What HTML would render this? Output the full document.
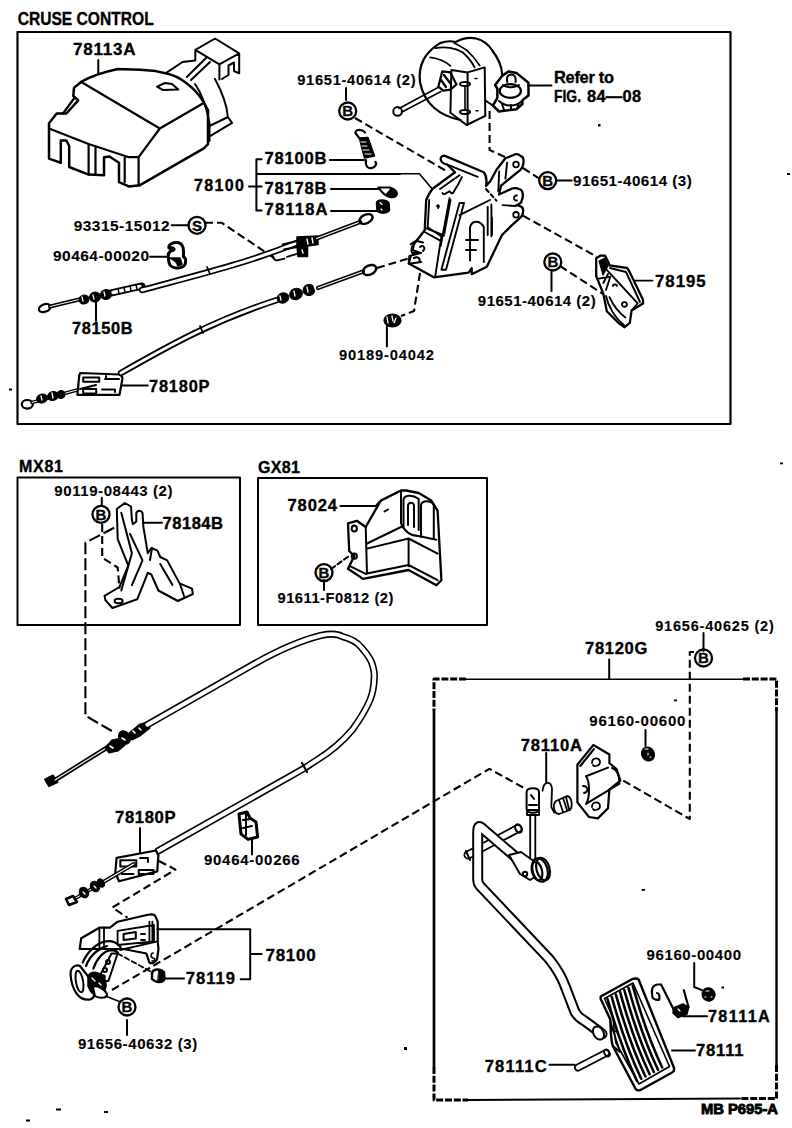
<!DOCTYPE html>
<html><head><meta charset="utf-8">
<style>
html,body{margin:0;padding:0;background:#fff;}
svg{display:block;}
text{font-family:"Liberation Sans",sans-serif;font-weight:bold;fill:#000;stroke:#000;stroke-width:0.35px;}
</style></head>
<body>
<svg width="792" height="1128" viewBox="0 0 792 1128">
<rect x="0" y="0" width="792" height="1128" fill="#fff"/>
<g fill="none" stroke="#000" stroke-width="2" stroke-linejoin="round" stroke-linecap="round">
<!-- boxes -->
<path d="M17.5,424 V32 H730.5 V424 Z" stroke-width="2.2"/>
<path d="M17.5,625 V477.5 H240 V625 Z"/>
<path d="M258,625 V478 H487 V625 Z"/>
<path d="M466,679.3 H743" stroke-width="1.5"/><path d="M434,711 V1067" stroke-width="2.7"/><path d="M776.5,711 V1065" stroke-width="2.4"/><path d="M468,1100 L740,1098.5" stroke-width="2"/>
<g stroke-dasharray="7,1.8" stroke-width="3" stroke-linecap="butt"><path d="M466,679 H434 V711"/><path d="M743,679 H776.5 V711"/><path d="M434,1067 V1100 H468"/><path d="M776.5,1065 V1098.5 H740"/></g>
</g>

<g id="top-parts" fill="none" stroke="#000" stroke-width="2" stroke-linejoin="round" stroke-linecap="round">
<!-- cover 78113A -->
<path d="M98.3,60 V73.2"/>
<path d="M81.7,81.5 Q95,74 117.8,69 L140,69.7 L155.6,71.1 L165.5,73.3 C180,76 195,88 202.4,100.2 L208,110.1 L208,144.1 L203.8,148.4 L140,185.2 L128.9,186.4 L119,182.2 L119,162.8 L109.4,156.5 L104,157.2 L104,175.3 L88.6,174.6 L69.2,167 L69.2,146 L66.4,140.6 L60.8,140.6 L60.8,162.8 L49,158.6 L49,123.2 L56.7,113.5 L66.4,113.5 L78.2,100.3 L73.3,96 L74,87.8 Z" stroke-width="2.5"/>
<path d="M49.7,128.8 L88.6,144 L128.9,157.2 L138.6,157.2 L159.8,128.5 M81.7,82.2 L159.8,128.5 L202.4,103.7 M124.7,158 V182 M138.6,157.2 V185.7 M88.6,144 V174.6 M95.5,146 V174.6 M63,113.5 L74.7,97.5" stroke-width="2.2"/>
<path d="M165.5,73.3 L182.5,62 L195.3,60.5 M186.8,77 L206,58 M191,80 L210,62 M215,79 C222,92 227,105 227.9,117.2 L232.1,122.9 L210.9,135.6 M195,84 C203,95 207,110 209.5,122.9 L209.5,141 M209.5,126 L228,117"/>
<path d="M195.3,49.9 L215.1,38.5 L239.2,53.4 L219.4,64.3 Z M195.3,49.9 V60 M219.4,64.3 V79.4 M239.2,53.4 V73.3 L234,71 V62.5 L228.5,65.5 V75 L222,79" stroke-width="2"/>
<path d="M157,86.7 L165,83 L172,84 L178.3,89.6 L163,90 Z"/>
<!-- actuator -->
<path d="M460.5,120 C440,116 424,104 420,82 C418,66 424,53 440,43.1 C446,41 452,41 455.5,42.1 C470,34 484,38 492,50 C498,58 502,66 502,74" stroke-width="2.2"/>
<path d="M435.3,48.2 C445,46 456,48 462.5,52.2 C468,57 472,62 474.6,67.4 M454.4,43.1 C460,46 464,48 466.6,50.2 C472,55 476,60 479.7,65.4 M430.2,57.3 C436,58 444,60 450.4,65.9" stroke-width="1.8"/>
<path d="M451.4,69.9 L467.6,72.4 L484.7,67.4 L485.3,115.9 L466.6,125 L450.4,112.8 Z M467.6,72.4 V125" stroke-width="2"/>
<ellipse cx="465" cy="84" rx="5" ry="2"/><ellipse cx="465" cy="112" rx="5" ry="2"/>
<path d="M465,86 V110 M475,78.5 h2 M476,110.8 h2" stroke-width="1.6"/>
<path d="M442.3,71.4 L450.4,72.4 L456.5,84.5 L450.4,89.6 L443.3,90.6 L438.3,86.6 Z M444,75 l6,8 M441,80 l5,7" stroke-width="2.2"/>
<path d="M438,87.5 L399,108.5 M441,91.5 L402,112" stroke-width="1.6"/>
<circle cx="397.6" cy="111.4" r="4.3" stroke-width="2"/>
<path d="M495.2,85 L502,75.9 L508.8,71.4 L516.4,72.9 L528.5,82.7 L528.5,95.6 L522.4,100.2 L522.4,104 L516.4,109.2 L499,111.5 L492.9,105.5 L497.4,97.9 L497.4,88.8 Z" stroke-width="2.5" fill="#fff"/>
<ellipse cx="510.3" cy="91" rx="10.6" ry="6.8" stroke-width="2.2"/>
<path d="M507.3,82 C506,76 509,74.4 511.5,74.4 C514,74.4 516,76 515.6,82 M503,85 C507,88 515,88 519,85 M499,101 C505,107 516,107 522,101 M502,104 l2,6 M511,105 v5 M519,103 l-2,6 M492.9,105.5 L486,101" stroke-width="2"/>
<path d="M528,85.5 H551.5" stroke-width="1.8"/>
<!-- bracket 78100 -->
<path d="M426.2,200 L424.7,230.3 L414,244 L412.6,250 L420.2,253 L409.5,256 L408.8,263.6 L433.8,277.3 L468.6,272.7 L471.7,268.2 L471.7,274.2 L486.8,266.7 L502,235 L509.8,227.2 L519.5,218.4 C524,215 524,208 521.3,206.9 C519,205 516,205 515,206 C520,204 522,202 521.3,201.6 C524,196 523,190 519.5,189.2 C516,187.5 512,188 510.7,189.2 L499,194.5 L501,185.7 L520.4,169.8 C525,165 524,157 521.3,156.5 C518,153.5 515,154 514.2,154.7 L505.4,158.3 L496.5,169.8 L490.3,181.3 L486,186 C487,180 486,175 483.8,172.3 L444.4,155.6 C439,156 439,163 447.4,164.7 L455,172.3 L432.3,189 C428,195 427,198 426.2,200 Z" stroke-width="2.3"/>
<path d="M459.5,203 L441.4,269.7 L446,269.7 L464,203 Z M429.2,200 L427.7,227.3 L441.4,236.4 L435.3,275.8 M450.5,200 L444.4,233.3 M470,260.6 L470,227.3 C472,220 480,220 483.8,227 L483.8,262 M459.5,215.2 L490,200 M491.4,204.5 V236.4 M440,189 L459.5,175.3 M447.4,164.7 L477.7,176.8 M420,247 C423,244 426,248 423,251 M466,240 h12 M466,250 h10 M507.1,162.7 L505.4,178.6 M499.2,171.5 L498.3,191 M487.7,207 V235 M492,217.5 V235 M502.7,205.1 L515,206" stroke-width="1.9"/>
<path d="M412.4,246 C411,250 411,252 412.4,253 L421.2,253 M410.6,244.3 L416,240.8 L423,242.5 M410.6,256.7 L408.8,263.7 L421.2,262 M414,258 C418,256 421,259 419,262" stroke-width="2"/>
<path d="M442.4,193 C444,196 447,192 449.5,191.3 C451,193 452,194 453,193 C455,190 457,186 458.3,184.2 L461.9,177 M426.5,228.4 L444.2,235.5 M424.7,232 L440.7,240.8 M449.5,198.3 L440.7,246 M437,206 C438,204 440,206 438,208" stroke-width="1.9"/>
<circle cx="516" cy="164.5" r="2.8" stroke-width="1.8"/><circle cx="516" cy="214.8" r="2.8" stroke-width="1.8"/>
<path d="M517,195.5 C513,195 513,201 517,200.5" stroke-width="1.8"/>
<path d="M486,189 L496.5,200.7" stroke-dasharray="4,3" stroke-width="2"/>
<path d="M400,173.8 H419.4 L432.3,189" stroke-width="1.6"/>
<!-- 78195 bracket -->
<path d="M596.2,258.3 L600.6,255.6 L605,255.6 L608.6,262.7 L609.5,265.3 L627.1,268 L628.9,270.6 L643,299.8 L643,303.4 L631.6,310.4 L629.8,322.8 L624.5,327.2 L618.3,322.8 L606.8,311.3 L603.3,293.6 L596.2,276 Z" stroke-width="2.3"/>
<path d="M599,261 L605,258 L608,266 L603,275 Z" fill="#000" stroke-width="1.2"/>
<path d="M606.8,269.8 L637.7,303.4 M610,268 L626,272 L640,302 M598.8,278.6 L610.3,276.8 L606,290 M603.3,283 L608,274 M631.6,310.4 L637.7,303.4 M609.5,297.2 C613,305 618,312 625.4,317.5 M606,296 C608,306 615,318 624,325" stroke-width="1.9"/>
<path d="M613,286 C613,284 617,284 617,286 M622,305 C621,302 626,301 627,304 C627,307 623,308 622,305 Z" stroke-width="1.8"/>
<path d="M634.2,280.6 H652.6" stroke-width="1.8"/>
<!-- spring 78100B -->
<path d="M355.4,133 C355,129 362,129 365,132.4 M355.4,133 L360,139 M366,160 C365,166 368,169 372,168 C376,167 377,163 375.3,162" stroke-width="2.2"/>
<path d="M359.4,138 L368,137.5 L374.5,156 L364.5,158 Z" fill="#000" stroke-width="1.5"/>
<path d="M361,142 h5 M362,146 h5 M363,150 h6 M365,154 h6" stroke="#fff" stroke-width="1"/>
<!-- pin 78178B, nut 78118A -->
<path d="M378.5,187.5 L389.7,187.5 C394,189 397,191 396.9,194 C396,197 393,197.5 390,197 C386,196 382,193 378.5,187.5 Z" stroke-width="2.2"/>
<path d="M386,195 L391,189 C395,190 397,193 396,195 C394,197 390,197 386,195 Z" fill="#000" stroke-width="1.5"/>
<path d="M376.5,203 C377,199 386,199 389,203 L389.5,210 C388,214 380,214 377,211 Z" fill="#000" stroke-width="1.5"/>
<path d="M380,202.5 l2,2 M381,209 l1,1" stroke="#fff" stroke-width="1.2"/>
<!-- leader lines -->
<path d="M256.4,159.3 V210.5 M256.4,159.3 H261.6 M249,186.6 H261.6 M256.4,210.5 H261.6 M256.4,174 H400 M329.8,160 H364 M331,189 H378.5 M331,211 H377"/>
<path d="M346,88 V100"/>
<path d="M556.6,180.6 H571.7"/>
<path d="M551.5,272 V291"/>
<path d="M171.7,225.3 H188 M150,256.8 H168.3 M96,301 V320.7 M121,385.6 H147.7 M386.9,326 V346.5"/>
<!-- dashed -->
<g stroke-dasharray="8,4" stroke-width="2.1" stroke-linecap="butt">
<path d="M355,118 L448,172"/>
<path d="M489.6,111 V150 L505,157"/><path d="M523,168 L540,179"/>
<path d="M523,215.7 L597,256.8"/>
<path d="M560,266 L603,294"/>
<path d="M205,222.7 H221.5 L275.7,259"/>
<path d="M377,268 L410,258"/>
<path d="M420,273 L414,311 L401,316"/>
</g>
<!-- upper cable 78150B -->
<ellipse cx="44.7" cy="308" rx="6" ry="3.8" transform="rotate(-20 44.7 308)" stroke-width="2.2"/>
<path d="M50,306.5 L79,299.5" stroke-width="4"/><path d="M50,306.5 L79,299.5" stroke="#fff" stroke-width="1"/>
<g fill="#000" stroke-width="1">
<ellipse cx="84" cy="299.5" rx="5" ry="4.5" transform="rotate(-15 84 299.5)"/>
<ellipse cx="95" cy="297" rx="5.5" ry="5" transform="rotate(-15 95 297)"/>
<ellipse cx="106" cy="294.5" rx="5.5" ry="5" transform="rotate(-15 106 294.5)"/>
</g>
<path d="M82,297 l1,4 M93,295 l1,4 M104,292 l1,4" stroke="#fff" stroke-width="1.3"/>
<path d="M111,293 L142,286" stroke-width="7"/><path d="M113,292.5 L140,286.5" stroke="#fff" stroke-width="3.4"/>
<path d="M118,288.5 l1,5 M124,287 l1,5 M130,285.5 l1,5 M136,284.5 l1,5" stroke-width="1.4"/>
<path d="M142,290 C190,277 245,264 298,242.5" stroke-width="6.5"/><path d="M142,290 C190,277 245,264 298,242.5" stroke="#fff" stroke-width="3"/>
<path d="M297,237 L318,236 L318,244.5 L307.5,246 L307.5,256.5 L298,256.5 L297,246 Z" fill="#000" stroke-width="1.5"/>
<path d="M307,239 l1,5 M312,238 l1,5 M302,250 l1,3" stroke="#fff" stroke-width="1.4"/>
<path d="M282.7,244.5 L297,241 M284,249.5 L297,247 M272,255 C273,258 275,260.5 277,260.4 L284.5,258.6 M287,256.8 L298.6,253.3" stroke-width="1.9"/>
<path d="M316.6,238.5 L360,222" stroke-width="4.2"/><path d="M316.6,238.5 L360,222" stroke="#fff" stroke-width="1.2"/>
<ellipse cx="366" cy="219" rx="7" ry="4.3" transform="rotate(-25 366 219)" stroke-width="2.4"/>
<path d="M207,267 l3,7" stroke-width="1.8"/>
<!-- lower cable 78180P -->
<ellipse cx="27.3" cy="404.3" rx="5.5" ry="4.3" stroke-width="2.2"/>
<path d="M32,402.5 L96,384.7" stroke-width="3.6"/><path d="M32,402.5 L96,384.7" stroke="#fff" stroke-width="1"/>
<g fill="#000" stroke-width="1">
<ellipse cx="42" cy="398.5" rx="5.5" ry="4.3" transform="rotate(-15 42 398.5)"/>
<ellipse cx="53" cy="396" rx="5.5" ry="4.5" transform="rotate(-15 53 396)"/>
<ellipse cx="61" cy="394.5" rx="4" ry="4" transform="rotate(-15 61 394.5)"/>
</g>
<path d="M41,396 l1,4 M52,393 l1,5" stroke="#fff" stroke-width="1.3"/>
<path d="M80.3,373 L119.5,374.5 C121,375 122.5,377 122.4,378.9 L119.5,394.8 L77.4,394.8 L78.9,378.9 C79,376 79.5,374 80.3,373 Z" stroke-width="2.2" fill="#fff"/>
<path d="M83.2,377.4 h16 v4.4 h-16 Z M83.2,389 h13 v4.4 h-13 Z M105,379 h14 M106,376 v3 M102,389.5 h13 v2.5 M96,385 L80,389" stroke-width="2"/>
<path d="M121,373 C170,345 215,320 277,300" stroke-width="6.5"/><path d="M121,373 C170,345 215,320 277,300" stroke="#fff" stroke-width="3"/>
<g fill="#000" stroke-width="1">
<ellipse cx="283" cy="298" rx="6" ry="5" transform="rotate(-20 283 298)"/>
<ellipse cx="296" cy="294" rx="6.5" ry="5.5" transform="rotate(-20 296 294)"/>
<ellipse cx="309" cy="290" rx="6" ry="5.5" transform="rotate(-20 309 290)"/>
</g>
<path d="M280,296 l1,4 M294,291 l1,5 M307,287 l1,5 M314,286 l2,5" stroke="#fff" stroke-width="1.3"/>
<path d="M318,288 L363,271.5" stroke-width="4.2"/><path d="M318,288 L363,271.5" stroke="#fff" stroke-width="1.2"/>
<ellipse cx="369.6" cy="270" rx="7" ry="4.5" transform="rotate(-25 369.6 270)" stroke-width="2.4"/>
<path d="M200,326 l3,7" stroke-width="1.8"/>
<!-- clip 90464-00020 -->
<path d="M169,248 C168,244 174,242 178,242.5 C182,243.5 183.5,247 183.5,251 L183.5,256.5 L185.5,259 C186,263 185,266 182,267 C178,269 172,268 170,265 C168,262 168.5,258 168.3,254 L170.5,251 C174,251 175,249 173,248 C171,247 170,249 169,248 Z" stroke-width="3"/>
<path d="M170,258 L176,262 L178,266 L182,264 L180,258 Z" fill="#000" stroke-width="1.5"/>
<!-- nut 90189 -->
<ellipse cx="392.5" cy="320.5" rx="8.5" ry="6.5" fill="#000" stroke-width="1.2"/>
<path d="M387,317 l1,6 M392,316 l1,5 M396,318 l-2,5" stroke="#fff" stroke-width="1.3"/>
</g>


<g id="mid-parts" fill="none" stroke="#000" stroke-width="2" stroke-linejoin="round" stroke-linecap="round">
<!-- MX81 bracket 78184B -->
<path d="M101.8,497.7 V505.6 M143,522.8 H162" />
<path d="M116.8,509 L124.8,503 L131,506.5 L131.9,519.7 L132.8,524.2 L136.3,521.5 L136.3,512.7 C138,510 141,510 142.5,512.7 L143.4,526.8 L147.8,553.3 L151.3,548 L157.5,550.7 L160.2,557 L167.2,560.4 L179.6,583.4 L192,588.7 L192.9,594 L177.8,601 L158.4,590.5 L151.3,574.5 L147.8,572.8 L137.2,599.3 L112.4,608 L105.4,600.2 L104.5,595.8 L119.5,587 L128.3,565.7 L117.7,539.2 Z" stroke-width="2"/>
<path d="M121.3,512.7 L131.9,553.3 L121.3,590.5 M130,533.9 L142.5,560.4 L131.9,585.2 M160.2,564 L172.5,585 M152,548 L150,560 M180,584 L184,596" />
<ellipse cx="118.6" cy="601" rx="4" ry="2.2"/>
<g stroke-dasharray="8,4" stroke-width="2.1" stroke-linecap="butt">
<path d="M102.2,524 V557.8 L117.7,567.5 L119.5,588.7"/>
<path d="M114.2,527.7 L85.4,542.7 V715.7 L115,732.8" stroke-dasharray="12,4"/>
</g>
<!-- GX81 bracket 78024 -->
<path d="M340.4,506 H375.8 L379,502"/>
<path d="M324,580 V590"/>
<path d="M401,490.5 L380.8,500.6 L365.7,527 L356.8,520.8 L348,523.3 L349.2,551 L354.3,556 L348,568.8 L363,578.9 L408.6,570 L436.4,585.2 L441.4,580.2 L437.6,510.7 L431.3,500.6 L418.7,493 L406,490.5 Z" stroke-width="2.3"/>
<path d="M365.7,527 L367,573.8 M350.5,566.3 L365.7,573.8 L408.6,565 L437.6,580.2 M367,548.6 L408.6,538.5 L437.6,553.6 M367,543.5 L401,527 M408.6,538.5 V566.3 M401,492 V523.3 C404,530 410,536 418.7,536 L436.4,539.7" stroke-width="2"/>
<path d="M403.5,528 V500 C404,495 412,494 418.7,499 V530 M408,525 V505 C409,502 413,502 414,505 V527 M421,537 V505 C422,500 431,500 433.8,505 V538.5" stroke-width="2"/>
<ellipse cx="354.3" cy="528.4" rx="2.6" ry="3"/><ellipse cx="354.3" cy="556.2" rx="2.6" ry="2.6"/>
<path d="M384.5,511.5 L388,509.5" stroke-width="2"/>
<path d="M331,569 L349,556" stroke-dasharray="5,3"/>
<!-- long cable -->
<path d="M45,779.5 L53,775.5 L57.5,782 L49,786 Z" fill="#000" stroke-width="2"/>
<path d="M52,782 L108,747" stroke-width="4.6"/><path d="M55,780 L108,747" stroke="#fff" stroke-width="1.1"/>
<g fill="#000" stroke-width="1.2">
<path d="M105,748 L112,740 L121,738 L125,745 L118,751 L109,753 Z"/>
<ellipse cx="124.5" cy="737.5" rx="5.5" ry="7" transform="rotate(-32 124.5 737.5)"/>
<path d="M128,734 L140,724 L147,722 L150,728 L140,736 L132,740 Z"/>
</g>
<path d="M110,746 l3,2 M122,738 l3,2 M133,731 l2,2 M139,728 l2,2" stroke="#fff" stroke-width="1.6"/>
<path d="M147.4,724.7 L255,663.5 C270,655 295,642 320.7,635.5 C330,633.5 338,634 342,636.4 C352,639 358,643 361.3,647.4 C368,655 372,662 372.8,666 C374.5,672 374.5,676 374.2,678.3 C374,688 372,695 370.2,699.5 C365,712 358,722 352.5,729.6 C342,742 330,752 317,760 C312,763 308,766 304.5,768.2 L158,851" stroke-width="7.2"/>
<path d="M147.4,724.7 L255,663.5 C270,655 295,642 320.7,635.5 C330,633.5 338,634 342,636.4 C352,639 358,643 361.3,647.4 C368,655 372,662 372.8,666 C374.5,672 374.5,676 374.2,678.3 C374,688 372,695 370.2,699.5 C365,712 358,722 352.5,729.6 C342,742 330,752 317,760 C312,763 308,766 304.5,768.2 L158,851" stroke="#fff" stroke-width="4"/>
<path d="M302,763 l5,9" stroke-width="2.2"/>
<!-- lower 78180P tag -->
<path d="M140,828 V853"/>
<path d="M116.6,857.9 L156,850.5 L158.4,855.4 L157.2,871.4 L119,881.3 L115.3,872.7 Z" stroke-width="2.2" fill="#fff"/>
<path d="M120.3,860.3 h16 v6.2 h-16 Z M138.7,870 h14.8 v4 h-14.8 Z M121.5,874 h12 M140,858 h8 v4" stroke-width="2"/>
<path d="M133.8,864 L100,884" stroke-width="4"/><path d="M133.8,864 L100,884" stroke="#fff" stroke-width="1.2"/>
<path d="M100,884 L76,898" stroke-width="3.5"/><path d="M100,884 L76,898" stroke="#fff" stroke-width="1"/>
<g fill="#000" stroke-width="1">
<ellipse cx="84" cy="892.5" rx="4.5" ry="5.5" transform="rotate(-30 84 892.5)"/>
<ellipse cx="95" cy="886.5" rx="4.5" ry="5.5" transform="rotate(-30 95 886.5)"/>
<ellipse cx="101" cy="883" rx="3" ry="4.5" transform="rotate(-30 101 883)"/>
</g>
<path d="M83,892 l2,2 M94,886 l2,2" stroke="#fff" stroke-width="1.4"/>
<path d="M66,899 L73,896 L77,902 L69,905 Z" stroke-width="2.6" fill="#fff"/>
<!-- clip 90464-00266 -->
<path d="M252,839.4 V854.5"/>
<path d="M239,814 L247,812 L250,818 L256,822 L257.6,837 L248,839.4 L241,834 Z" stroke-width="3" fill="#fff"/>
<path d="M243,820 L251,819 M243,828 L252,826 M246,814 V835" stroke-width="2"/>
<g stroke-dasharray="8,4" stroke-width="2.1" stroke-linecap="butt">
<path d="M159,861 L175.5,869.6 L112.4,907.5 L127.5,917.6"/>
<path d="M112,990 L368,840 L489.4,768.8 L527,789.6"/>
</g>
<!-- lower bracket 78100 -->
<path d="M81.2,938.3 L99.4,927.7 L110,927.7 L117.6,921.7 L147.9,914.8 C152,914 155,915 155.5,916.4 L157.7,921.7 L157.7,941.4 L158.5,949 L157,959.5 C155,963 151,964 149.4,962.6 L146.4,953.5 L123.6,949 L99.4,949 L79.7,949 Z" stroke-width="2.2" fill="#fff"/>
<path d="M99.4,927.7 V949 M104,927.7 V945 M117.6,930.8 L154,925 V941.4 L117.6,945 Z M149.4,921.7 V941 M152.4,921.7 V941 M120,950 L157.7,941.4" stroke-width="1.8"/>
<path d="M123.6,934 L135.8,932 L135.8,938.5 L123.6,940 Z" stroke-width="2"/>
<path d="M141,934 h4 M141,940 h4" stroke-width="1.8"/>
<path d="M153.2,953 C151,953 150,957 153,958 C156,958 155,961 152,961" stroke-width="1.6"/>
<path d="M82.7,962.6 C88,950 98,943 105.5,941.4 C112,940 118,943 120.6,947.4" stroke-width="2.2"/>
<path d="M93.3,968.6 C97,958 104,951 110,950.5 C114,950 117,951 118,953" stroke-width="2.2"/>
<path d="M86,966 C90,955 99,948 107,946" stroke-width="2.2"/>
<path d="M111.5,953.5 L117.6,953.5 L108.5,980.8 L96,983 Z" stroke-width="2" fill="#fff"/>
<circle cx="108" cy="962" r="2"/><circle cx="105" cy="970" r="2"/><circle cx="103" cy="977" r="1.8"/>
<path d="M70.6,975 C70,967 76,964 80,966 L94,984 C96,992 95,998 90,999.5 C80,1001 72,992 70.6,975 Z" stroke-width="2.2" fill="#fff"/>
<ellipse cx="79.5" cy="981.5" rx="3.6" ry="11" transform="rotate(-10 79.5 981.5)" stroke-width="2"/>
<path d="M88,976 C92,970 100,972 104,978 C108,984 106,992 100,995 C94,997 90,992 88,986 Z" fill="#000" stroke-width="1.5"/>
<path d="M93,987 C96,985 104,988 107,994 C108,998 100,999 95,996 Z" stroke-width="2" fill="#fff"/>
<path d="M92,978 l3,3 M99,983 l2,2" stroke="#fff" stroke-width="1.4"/>
<path d="M117.6,953.5 L151,971.7" stroke-dasharray="5,3" stroke-width="1.8"/>
<path d="M105.5,996 L120.6,1002" stroke-width="1.6"/>
<path d="M152,973 C153,969 160,968 164,972 L164.5,979 C163,983 156,983 152,979 Z" stroke-width="2.4" fill="#fff"/>
<path d="M159,970 C162,970 165,973 164.5,978 C163,982 160,983 158,982 Z" fill="#000" stroke-width="1"/>
<path d="M157.4,929.2 H250.2 V979.2 H240.7 M250.2,953.9 H261.6 M164.5,978.5 H184"/>
<path d="M127,1020 V1035"/>
</g>
<g id="right-parts" fill="none" stroke="#000" stroke-width="2" stroke-linejoin="round" stroke-linecap="round">
<path d="M703.5,633 V651 M609.2,659.5 V678.6 M645.5,730 V746 M546.2,753 V782"/>
<g stroke-dasharray="8,4" stroke-width="2.1" stroke-linecap="butt">
<path d="M694,652 H689.8 V819 L621.5,779.6"/>
</g>
<!-- nut 96160-00600 -->
<ellipse cx="648" cy="754" rx="6.3" ry="7.3" transform="rotate(-30 648 754)" fill="#000" stroke-width="1"/><path d="M645,749 h3 M648,753 v2 M650,757 h1" stroke="#fff" stroke-width="1.1"/>
<!-- pivot bracket -->
<path d="M577.4,764.7 L593.4,745 L609.4,754.5 L609.4,763.2 L616.6,769 L620.3,780.7 L609.4,789.4 L608,808.2 L597.8,818.4 L589,817 L577.4,802.4 Z" stroke-width="2.2"/>
<path d="M580.3,766 L594,749 M586,776.3 L608,767.6 M586,803.9 L619.5,783.6 M586,776 C590,782 590,798 586,804 M612,768 C618,770 620,778 619,783"/>
<path d="M592,763 C592,757 600,757 600,762 C600,766 594,767 593,765 M583,786 C588,786 589,792 584,793 M592,807 C592,801 600,801 600,806 C600,810 594,811 593,809" stroke-width="1.8"/>
<!-- spring 78110A -->
<path d="M542.6,790.8 C543,786 544,783.6 547,782.8 C550,782.5 552,785 552,789.4 L551.3,806.8 L554.2,812.6" stroke-width="1.8"/>
<path d="M556,801 L567,796 C572,797 573,806 570,810 L559,814 C554,814 552,805 556,801 Z M559,800 l4,12 M563,798 l4,12 M566,797 l3,12" stroke-width="1.8"/>
<!-- clevis + rod -->
<path d="M526.6,792 C527,787 539,787 539,792 V809 C539,814 527,814 526.6,809 Z M529,805 h8 M531,795 l3,4" stroke-width="2"/>
<path d="M527,810 h12 v5 h-12 Z" stroke-width="1.8"/>
<path d="M530.2,815.5 V860 M535.3,815.5 V860" stroke-width="1.8"/>
<!-- pivot pin -->
<path d="M468,855 L518,828.5" stroke-width="9"/>
<path d="M468,855 L518,828.5" stroke="#fff" stroke-width="5.4"/>
<ellipse cx="518.5" cy="828.5" rx="3" ry="4.5" transform="rotate(-28 518.5 828.5)" stroke-width="2"/>
<path d="M466,851 L470,860" stroke-width="2"/>
<!-- pedal arm (double line via stroke) -->
<path id="arm" d="M526,866 L511,853 L483,829 C479,825 477.7,826 477.7,832 L477.7,880 C478,885 480,886 482,888 L515.5,923.4 L549,958.8 C558,970 562,978 565,986 L575,1012 C578,1017 581,1019 584,1020.5 L599,1031.5 L602,1034" stroke-width="11" stroke-linecap="round"/>
<path d="M526,866 L511,853 L483,829 C479,825 477.7,826 477.7,832 L477.7,880 C478,885 480,886 482,888 L515.5,923.4 L549,958.8 C558,970 562,978 565,986 L575,1012 C578,1017 581,1019 584,1020.5 L599,1031.5 L602,1034" stroke="#fff" stroke-width="7" stroke-linecap="round"/>
<ellipse cx="598.5" cy="1033" rx="5" ry="7" transform="rotate(-30 598.5 1033)" stroke-width="2" fill="#fff"/>
<!-- lever plate + roller -->
<path d="M509,855 L521,852 L535,862 L538,875 L530,880 L520,874 Z" stroke-width="2" fill="#fff"/>
<circle cx="525" cy="874" r="2.2"/>
<ellipse cx="540" cy="870" rx="7.5" ry="12" transform="rotate(-15 540 870)" stroke-width="2.2" fill="#fff"/>
<ellipse cx="543" cy="869" rx="6.5" ry="11.5" transform="rotate(-15 543 869)" stroke-width="2.2"/>
<ellipse cx="537" cy="871" rx="5" ry="9.5" transform="rotate(-15 537 871)" stroke-width="2.2"/>
<!-- pedal pad 78111 -->
<path d="M600.7,996.5 L632.9,978.8 C636,978 638,979 638.6,979.5 L673.3,1066 C675,1070 674,1071 673,1072 L640.5,1090 C638,1091 636,1090 635.5,1088.7 L612.7,1045.8 C610,1036 611,1025 610.2,1019.2 L600.7,999 Z" stroke-width="2.4" fill="#fff"/>
<path d="M604.5,998.5 L633,983 L669.5,1066.5 L639,1084 L616,1043 C614,1034 614,1024 613,1018 Z" stroke-width="1.6"/>
<path d="M607.5,999.0 C611.5,1013.0 619.5,1044.0 637.0,1081.0 M611.7,996.8 C615.7,1010.8 623.7,1041.8 641.2,1078.8 M615.9,994.5 C619.9,1008.5 627.9,1039.5 645.4,1076.5 M620.1,992.2 C624.1,1006.2 632.1,1037.2 649.6,1074.2 M624.3,990.0 C628.3,1004.0 636.3,1035.0 653.8,1072.0 M628.5,987.8 C632.5,1001.8 640.5,1032.8 658.0,1069.8 M632.7,985.5 C636.7,999.5 644.7,1030.5 662.2,1067.5" stroke-width="2.6"/>
<path d="M610.5,1022 L620,1052 L613,1046 M611,1030 L618,1032" stroke-width="1.8"/>
<!-- pin 78111C -->
<path d="M578,1067.5 L606,1053" stroke-width="8"/>
<path d="M578,1067.5 L606,1053" stroke="#fff" stroke-width="4.4"/>
<ellipse cx="607" cy="1053" rx="2.5" ry="3.8" transform="rotate(-30 607 1053)" stroke-width="1.8"/>
<path d="M549.5,1064.7 H574.5"/>
<!-- spring 78111A + nut -->
<path d="M661.1,984.5 L657.3,984.5 C652,985 651,990 652.6,997.7 C654,1000 658,1000 659.2,999.6 C660,996 659,993 657,993 M661.1,984.5 L674.4,1011 M683.8,990.2 L688.6,1007.2" stroke-width="2.2"/>
<path d="M673.5,1008 L683,1004 L688.6,1007.5 L687,1014 L678,1017.6 L673,1013 Z" fill="#000" stroke-width="1.5"/>
<path d="M678,1009 l2,2" stroke="#fff" stroke-width="1.2"/>
<path d="M683,1016.2 H707 M695,1050.5 H672"/>
<path d="M694.2,963 V987 L701.8,990.2"/>
<ellipse cx="708.5" cy="994.4" rx="6.5" ry="6.8" transform="rotate(-30 708.5 994.4)" fill="#000" stroke-width="1"/>
<path d="M706,991 l3,0 M705,997 h1 M711,997 h1" stroke="#fff" stroke-width="1.1"/>
</g>
<g id="circles" fill="none" stroke="#000" stroke-width="2.3">
<circle cx="347.7" cy="111" r="8.5"/>
<circle cx="547.7" cy="180.6" r="8.5"/>
<circle cx="552.8" cy="262" r="8.5"/>
<circle cx="197" cy="225.3" r="8.5"/>
<circle cx="101" cy="514.4" r="8.5"/>
<circle cx="324" cy="572.6" r="8.5"/>
<circle cx="127" cy="1007" r="8.5"/>
<circle cx="703.5" cy="658" r="8.5"/>
</g>
<g id="circ-letters" font-size="15" text-anchor="middle">
<text x="347.7" y="116.2">B</text>
<text x="547.7" y="185.8">B</text>
<text x="552.8" y="267.2">B</text>
<text x="197" y="230.5">S</text>
<text x="101" y="519.6">B</text>
<text x="324" y="577.8">B</text>
<text x="127" y="1012.2">B</text>
<text x="703.5" y="663.2">B</text>
</g>
<g id="dots" fill="#000">
<rect x="598" y="124" width="2.5" height="2.5"/><rect x="787" y="173" width="3" height="2"/>
<rect x="404" y="1047" width="3" height="3"/><rect x="56" y="1108.5" width="5" height="2"/>
<rect x="104" y="1111" width="4" height="2"/><rect x="26" y="1119.5" width="4" height="2"/>
<rect x="9" y="388.5" width="3" height="2"/><rect x="780" y="462.5" width="3" height="1.8"/>
<rect x="641.5" y="889" width="3.5" height="1.8"/><rect x="721.5" y="986.5" width="2.5" height="2"/><rect x="674" y="699.5" width="3" height="1.8"/>
</g>
<g id="labels">
<text x="17.7" y="25.3" font-size="18.5" textLength="136" lengthAdjust="spacingAndGlyphs">CRUSE CONTROL</text>
<text x="73" y="54.6" font-size="17" textLength="62.5" lengthAdjust="spacing">78113A</text>
<text style="stroke-width:0.1px" x="297.2" y="84.6" font-size="14.7" textLength="118.4" lengthAdjust="spacing">91651-40614 (2)</text>
<text x="554" y="83.3" font-size="16.4" textLength="60" lengthAdjust="spacing">Refer to</text>
<text x="554" y="101.5" font-size="16.4" textLength="27" lengthAdjust="spacingAndGlyphs">FIG.</text><text x="587" y="101.5" font-size="16.4" textLength="54" lengthAdjust="spacing">84—08</text>
<text x="264.5" y="163.9" font-size="16.6" textLength="61.9" lengthAdjust="spacing">78100B</text>
<text x="194" y="191" font-size="16" textLength="50" lengthAdjust="spacing">78100</text>
<text x="264.5" y="193.9" font-size="16.6" textLength="61.9" lengthAdjust="spacing">78178B</text>
<text x="264.5" y="215" font-size="16.6" textLength="63" lengthAdjust="spacing">78118A</text>
<text style="stroke-width:0.1px" x="573" y="186.4" font-size="15.2" textLength="118.7" lengthAdjust="spacing">91651-40614 (3)</text>
<text style="stroke-width:0.1px" x="73.7" y="230.8" font-size="15.5" textLength="96" lengthAdjust="spacing">93315-15012</text>
<text style="stroke-width:0.1px" x="53" y="261" font-size="15.5" textLength="96" lengthAdjust="spacing">90464-00020</text>
<text x="72" y="333.8" font-size="16.4" textLength="60.6" lengthAdjust="spacing">78150B</text>
<text x="149" y="392" font-size="16.4" textLength="60.5" lengthAdjust="spacing">78180P</text>
<text style="stroke-width:0.1px" x="338.9" y="360" font-size="14.7" textLength="95.1" lengthAdjust="spacing">90189-04042</text>
<text style="stroke-width:0.1px" x="477.8" y="305.6" font-size="15" textLength="117.9" lengthAdjust="spacing">91651-40614 (2)</text>
<text x="655" y="287" font-size="16.8" textLength="50.6" lengthAdjust="spacing">78195</text>
<text x="19" y="472.2" font-size="16" textLength="44" lengthAdjust="spacing">MX81</text>
<text x="258" y="472.8" font-size="16" textLength="42" lengthAdjust="spacing">GX81</text>
<text style="stroke-width:0.1px" x="54.3" y="495.7" font-size="15" textLength="118.2" lengthAdjust="spacing">90119-08443 (2)</text>
<text x="162.6" y="528.9" font-size="16.6" textLength="60.4" lengthAdjust="spacing">78184B</text>
<text x="287.6" y="511" font-size="16.6" textLength="49.3" lengthAdjust="spacing">78024</text>
<text style="stroke-width:0.1px" x="277.5" y="603" font-size="14.7" textLength="115.9" lengthAdjust="spacing">91611-F0812 (2)</text>
<text x="115" y="823" font-size="16.6" textLength="60.5" lengthAdjust="spacing">78180P</text>
<text style="stroke-width:0.1px" x="204" y="865" font-size="15" textLength="95.6" lengthAdjust="spacing">90464-00266</text>
<text x="265.4" y="960.7" font-size="17" textLength="50.4" lengthAdjust="spacing">78100</text>
<text x="185.8" y="984.2" font-size="16.6" textLength="49.2" lengthAdjust="spacing">78119</text>
<text style="stroke-width:0.1px" x="77.9" y="1048.6" font-size="15" textLength="119.3" lengthAdjust="spacing">91656-40632 (3)</text>
<text style="stroke-width:0.1px" x="655.2" y="631.1" font-size="14.5" textLength="118.6" lengthAdjust="spacing">91656-40625 (2)</text>
<text x="585" y="653.7" font-size="16.6" textLength="62.3" lengthAdjust="spacing">78120G</text>
<text style="stroke-width:0.1px" x="589.3" y="726" font-size="15" textLength="96.1" lengthAdjust="spacing">96160-00600</text>
<text x="520.8" y="750.6" font-size="16.6" textLength="61.2" lengthAdjust="spacing">78110A</text>
<text style="stroke-width:0.1px" x="646.6" y="959.8" font-size="15" textLength="94.4" lengthAdjust="spacing">96160-00400</text>
<text x="708" y="1021.8" font-size="16.2" textLength="61.7" lengthAdjust="spacing">78111A</text>
<text x="696" y="1056.2" font-size="16.6" textLength="47.6" lengthAdjust="spacing">78111</text>
<text x="484.7" y="1071.7" font-size="16.6" textLength="62" lengthAdjust="spacing">78111C</text>
<text x="701" y="1114.4" font-size="15" textLength="77" lengthAdjust="spacingAndGlyphs" style="stroke-width:0.9px">MB P695-A</text>
</g>
</svg>
</body></html>
